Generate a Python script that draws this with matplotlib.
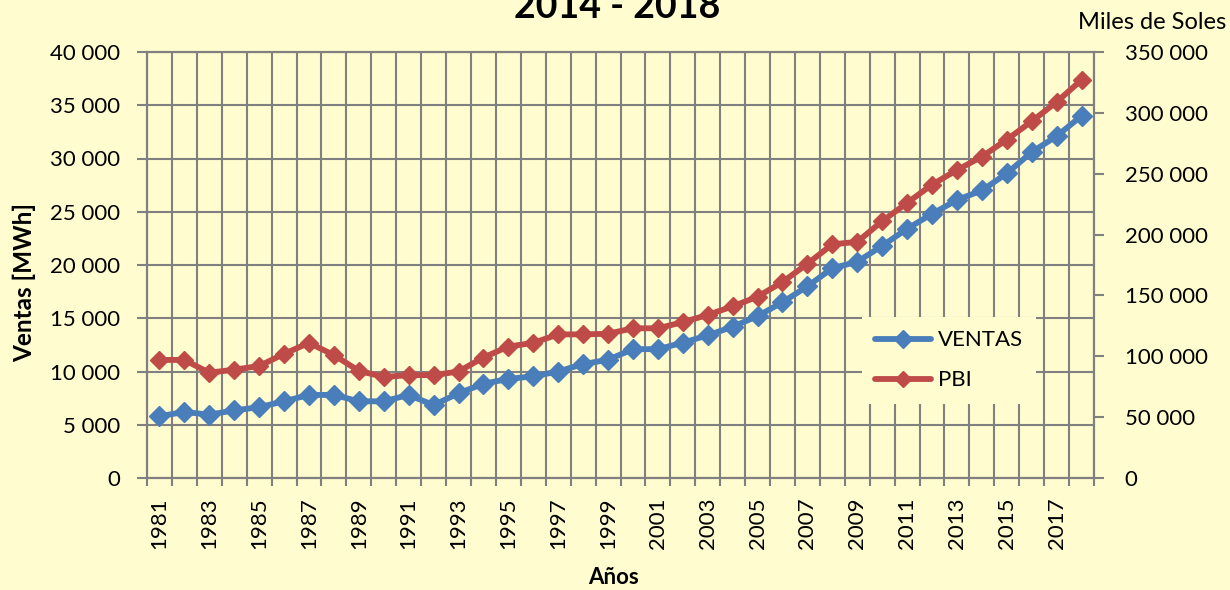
import matplotlib
matplotlib.use("Agg")
import matplotlib.pyplot as plt
import numpy as np
from matplotlib.ticker import FuncFormatter

years = list(range(1981, 2019))
ventas = [5800, 6200, 5950, 6350, 6650, 7200, 7800, 7800, 7200, 7200,
          7800, 6850, 7950, 8850, 9300, 9550, 10000, 10700, 11100, 12100,
          12100, 12700, 13400, 14200, 15200, 16500, 18000, 19700, 20300, 21800,
          23400, 24800, 26100, 27000, 28600, 30600, 32100, 34000]
pbi = [97000, 97000, 86500, 89000, 92000, 102000, 111000, 101000, 88000, 83000,
       84500, 84500, 87500, 99000, 108000, 111000, 118000, 118000, 118500, 123000,
       123000, 128000, 134000, 141000, 149000, 161000, 176000, 192000, 194000, 211000,
       226000, 241000, 253000, 264000, 278000, 293000, 309000, 327000]
left_ticks = list(range(0, 40001, 5000))
right_ticks = list(range(0, 350001, 50000))
series_names = ["VENTAS", "PBI"]
title_text = "2014 - 2018"
ylabel_text = "Ventas [MWh]"
xlabel_text = "Años"
right_unit = "Miles de Soles"

BG = '#FFFCCF'
GRID = '#808080'
BLUE = '#4A7EBB'
RED = '#BE4B48'

plt.rcParams['font.family'] = ['Lato', 'DejaVu Sans']

W, H = 1230, 590
fig = plt.figure(figsize=(W / 100, H / 100), dpi=100, facecolor=BG)
L, R, T, B = 147, 1094, 52, 478
ax = fig.add_axes([L / W, (H - B) / H, (R - L) / W, (B - T) / H])
ax.set_facecolor(BG)
ax2 = ax.twinx()

x = np.arange(len(years))
line_kw = dict(lw=4.2, marker='D', solid_capstyle='round', solid_joinstyle='round')
l1, = ax.plot(x, ventas, color=BLUE, mec=BLUE, mfc=BLUE, ms=10.5,
              label=series_names[0], **line_kw)
l2, = ax2.plot(x, pbi, color=RED, mec=RED, mfc=RED, ms=9.5,
               label=series_names[1], **line_kw)

ax.set_xlim(-0.5, len(years) - 0.5)
ax.set_ylim(0, 40000)
ax2.set_ylim(0, 350000)
ax.set_yticks(left_ticks)
ax2.set_yticks(right_ticks)
fmt = FuncFormatter(lambda v, p: f"{int(round(v)):,}".replace(",", " "))
ax.yaxis.set_major_formatter(fmt)
ax2.yaxis.set_major_formatter(fmt)

ax.set_xticks(x[::2])
ax.set_xticklabels([str(y) for y in years[::2]], rotation=90)
ax.set_xticks(np.arange(-0.5, len(years)), minor=True)
ax.tick_params(axis='x', which='major', length=0, pad=14, labelsize=16)
ax.tick_params(axis='x', which='minor', length=6, width=1.5, color=GRID)
ax.tick_params(axis='y', length=7, width=1.5, color=GRID, pad=12, labelsize=16)
ax2.tick_params(axis='y', length=7, width=1.5, color=GRID, pad=15, labelsize=16)
ax.grid(axis='x', which='minor', color=GRID, lw=1.5)
ax.grid(axis='y', which='major', color=GRID, lw=1.5)
ax.set_axisbelow(True)
for a in (ax, ax2):
    for sp in a.spines.values():
        sp.set_color(GRID)
        sp.set_linewidth(1.5)

leg = ax2.legend(handles=[l1, l2], loc='upper left',
                 bbox_to_anchor=((862 - L) / (R - L), (B - 317) / (B - T)),
                 borderaxespad=0, frameon=True, fancybox=False, fontsize=16,
                 handlelength=2.5, handletextpad=0.3, labelspacing=0.9,
                 borderpad=0.6, numpoints=1, markerscale=0.85)
leg.get_frame().set_facecolor(BG)
leg.get_frame().set_edgecolor('none')
leg.get_frame().set_alpha(1)

fig.text(617 / W, (H - 18) / H, title_text, ha='center', va='baseline',
         fontsize=27, fontweight='bold')
fig.text(24 / W, (H - 282) / H, ylabel_text, ha='center', va='center',
         rotation=90, fontsize=17.5, fontweight='bold')
fig.text(614 / W, (H - 578) / H, xlabel_text, ha='center', va='center',
         fontsize=16, fontweight='bold')
fig.text(1226 / W, (H - 29) / H, right_unit, ha='right', va='baseline', fontsize=17)

fig.savefig('out.png', dpi=100, facecolor=BG)
